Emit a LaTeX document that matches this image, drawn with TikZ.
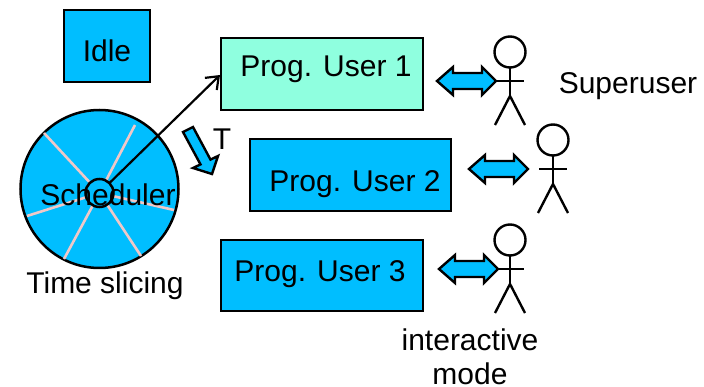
\documentclass[tikz,border=0pt]{standalone}
\usepackage{fontspec}
\usetikzlibrary{arrows.meta}
\setmainfont{Liberation Sans}
\definecolor{skyb}{RGB}{0,190,255}
\definecolor{mint}{RGB}{143,255,223}
\definecolor{spoke}{RGB}{240,200,200}
\tikzset{
  lab/.style={inner sep=0pt,anchor=base,font=\fontsize{30}{32}\selectfont,text=black},
  box/.style={draw=black,line width=2.5pt,fill=skyb,anchor=north west,inner sep=0pt,outer sep=0pt},
  spokeline/.style={draw=spoke,line width=2.6pt},
  limb/.style={draw=black,line width=2.4pt},
  blockarrow/.style={draw=black,line width=2.4pt,fill=skyb,line join=miter}
}
\newcommand{\figureat}[4]{% x, y of head centre, name, arrow left tip x
  \node[circle,draw=black,line width=2.4pt,fill=white,minimum size=31pt,inner sep=0pt,outer sep=0pt] (#3) at (#1,#2) {};
  \coordinate (#3hip) at (#1,#2+44);
  \coordinate (#3arml) at (#1-14,#2+29);
  \coordinate (#3armr) at (#1+14,#2+29);
  \coordinate (#3legl) at (#1-15,#2+73);
  \coordinate (#3legr) at (#1+15,#2+73);
  \draw[limb] (#3.south) -- (#3hip);
  \draw[limb] (#3arml) -- (#3armr);
  \draw[limb] (#3legl) -- (#3hip) -- (#3legr);
  \draw[blockarrow] (#4,#2+29) -- (#4+16,#2+15) -- (#4+16,#2+21) -- (#4+45,#2+21) -- (#4+45,#2+15) -- (#4+59,#2+29) -- (#4+45,#2+43) -- (#4+45,#2+37) -- (#4+16,#2+37) -- (#4+16,#2+43) -- cycle;
}
\begin{document}
\begin{tikzpicture}[x=1pt,y=-1pt]
\useasboundingbox (0,0) rectangle (704,387);
\node[box,minimum width=86pt,minimum height=72pt] (idle) at (64,10) {};
\node[lab] at (107,61.5) {Idle};
\node[box,fill=mint,minimum width=202pt,minimum height=72pt] (u1) at (221,38) {};
\node[lab] at (326,77) {Prog. User 1};
\node[box,minimum width=201pt,minimum height=72pt] (u2) at (250,139) {};
\node[lab] at (355,192) {Prog. User 2};
\node[box,minimum width=202pt,minimum height=71pt] (u3) at (221,240) {};
\node[lab] at (320,282) {Prog. User 3};
% wheel
\node[circle,draw=black,line width=2.5pt,fill=skyb,minimum size=158pt,inner sep=0pt,outer sep=0pt] (wheel) at (99.5,189) {};
\coordinate (s1) at (44,133);
\coordinate (s2) at (135,125);
\coordinate (s3) at (27,216);
\coordinate (s4) at (174,210);
\coordinate (s5) at (64,259);
\coordinate (s6) at (141,256);
\node[circle,minimum size=28pt,inner sep=0pt] (hub) at (99.5,193) {};
\foreach \s in {s1,s2,s3,s4,s5,s6} \draw[spokeline] (\s) -- (hub);
\node[circle,draw=black,line width=2.5pt,minimum size=28pt,inner sep=0pt,outer sep=0pt] (hubring) at (99.5,193) {};
\node[lab] at (108,206) {Scheduler};
\coordinate (u1tip) at (220,75);
\draw[black,line width=2.2pt,-{Straight Barb[length=11pt,width=17pt,line width=2.2pt]}] (hubring.north east) -- (u1tip);
% T arrow
\draw[blockarrow] (183,132) -- (193,127) -- (210.5,159.6) -- (218,156) -- (212,174) -- (193,168) -- (200.5,164.4) -- cycle;
\node[lab] at (222,150) {T};
\node[lab] at (105,294) {Time slicing};
\figureat{510}{52}{fa}{437}
\figureat{553}{140}{fb}{469}
\figureat{510}{240}{fc}{439}
\node[lab] at (628,94) {Superuser};
\node[lab] at (470,350) {interactive};
\node[lab] at (470,384) {mode};
\end{tikzpicture}
\end{document}
